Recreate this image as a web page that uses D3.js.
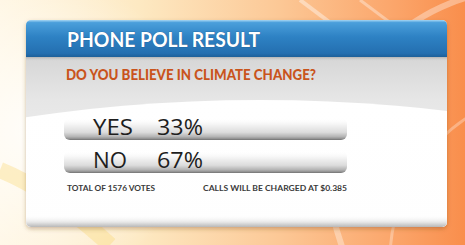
<!DOCTYPE html>
<html>
<head>
<meta charset="utf-8">
<script src="https://cdn.jsdelivr.net/npm/d3@7"></script>
<style>
  html, body { margin: 0; padding: 0; background: #fbb67d; }
  svg { display: block; }
  text { font-family: "Lato", "Open Sans", sans-serif; }
</style>
</head>
<body>
<svg id="chart" width="465" height="245"></svg>
<script>
// poll data
const answers = ["YES", "NO"];
const percents = [33, 67];
const titleText = "PHONE POLL RESULT";
const questionText = "DO YOU BELIEVE IN CLIMATE CHANGE?";
const totalVotes = 1576;
const callCost = "$0.385";

const W = 465, H = 245;
const svg = d3.select("#chart");
const defs = svg.append("defs");

function linGrad(id, stops, horizontal) {
  const g = defs.append("linearGradient").attr("id", id)
    .attr("x1", 0).attr("y1", 0)
    .attr("x2", horizontal ? 1 : 0).attr("y2", horizontal ? 0 : 1);
  stops.forEach(s => g.append("stop")
    .attr("offset", s[0]).attr("stop-color", s[1])
    .attr("stop-opacity", s[2] == null ? 1 : s[2]));
  return `url(#${id})`;
}

// background
svg.append("rect").attr("width", W).attr("height", H)
  .attr("fill", linGrad("bg", [[0, "#fff6e2"], [0.3, "#fde9c2"], [0.6, "#fcc896"], [0.85, "#fba56a"], [1, "#f98e4c"]], true));

const rg = defs.append("radialGradient").attr("id", "glow").attr("cx", 0.5).attr("cy", 0.5).attr("r", 0.5);
rg.append("stop").attr("offset", 0).attr("stop-color", "#ffffff").attr("stop-opacity", 0.9);
rg.append("stop").attr("offset", 1).attr("stop-color", "#ffffff").attr("stop-opacity", 0);
svg.append("ellipse").attr("cx", 40).attr("cy", 130).attr("rx", 150).attr("ry", 160).attr("fill", "url(#glow)");

// light swirls
const arcs = svg.append("g").attr("fill", "none");
arcs.append("circle").attr("cx", 520).attr("cy", 180).attr("r", 190)
  .attr("stroke", "#ffffff").attr("stroke-opacity", 0.35).attr("stroke-width", 6);
arcs.append("circle").attr("cx", 560).attr("cy", 260).attr("r", 170)
  .attr("stroke", "#ffffff").attr("stroke-opacity", 0.3).attr("stroke-width", 3);
arcs.append("path").attr("d", "M0,170 Q50,190 110,245")
  .attr("stroke", "#f8d870").attr("stroke-opacity", 0.35).attr("stroke-width", 16);
arcs.append("path").attr("d", "M300,0 L340,30").attr("stroke", "#ffffff").attr("stroke-opacity", 0.4).attr("stroke-width", 4);
arcs.append("path").attr("d", "M360,0 L400,30").attr("stroke", "#ffffff").attr("stroke-opacity", 0.35).attr("stroke-width", 3);

// panel
const px = 26, py = 20, pw = 421, ph = 207, headH = 37;
defs.append("filter").attr("id", "shadow").attr("x", -0.1).attr("y", -0.1).attr("width", 1.2).attr("height", 1.3)
  .append("feDropShadow").attr("dx", 0).attr("dy", 2).attr("stdDeviation", 2)
  .attr("flood-color", "#7a4a20").attr("flood-opacity", 0.35);

defs.append("clipPath").attr("id", "panelClip")
  .append("rect").attr("x", px).attr("y", py).attr("width", pw).attr("height", ph).attr("rx", 5);

svg.append("rect").attr("x", px).attr("y", py).attr("width", pw).attr("height", ph).attr("rx", 5)
  .attr("fill", "#f2f2f2").attr("filter", "url(#shadow)");

const panel = svg.append("g").attr("clip-path", "url(#panelClip)");
panel.append("rect").attr("x", px).attr("y", py + headH).attr("width", pw).attr("height", ph - headH)
  .attr("fill", linGrad("body", [[0, "#d6d6d6"], [0.25, "#e6e6e6"], [0.5, "#ececec"], [1, "#eeeeee"]]));
panel.append("ellipse").attr("cx", 260).attr("cy", 400).attr("rx", 700).attr("ry", 300)
  .attr("fill", linGrad("white", [[0, "#ffffff"], [1, "#fbfbfb"]]));
panel.append("rect").attr("x", px).attr("y", py + ph - 12).attr("width", pw).attr("height", 12)
  .attr("fill", linGrad("foot", [[0, "#ffffff", 0], [0.6, "#e6e6e6"], [1, "#b8b8b8"]]));

// header
panel.append("rect").attr("x", px).attr("y", py).attr("width", pw).attr("height", headH)
  .attr("fill", linGrad("head", [[0, "#a6d6f4"], [0.07, "#4b9fdb"], [0.45, "#2e82c4"], [0.9, "#246fb0"], [1, "#1d5f98"]]));
panel.append("rect").attr("x", px).attr("y", py + headH).attr("width", pw).attr("height", 4)
  .attr("fill", linGrad("headShade", [[0, "#8a8a8a", 0.45], [1, "#cccccc", 0]]));

svg.append("text").attr("x", 67).attr("y", 47)
  .attr("font-size", 20).attr("font-weight", 700).attr("fill", "#ffffff")
  .attr("textLength", 193).attr("lengthAdjust", "spacingAndGlyphs")
  .style("paint-order", "stroke").attr("stroke", "#1a5a90").attr("stroke-width", 0.6)
  .text(titleText);

svg.append("text").attr("x", 66).attr("y", 80)
  .attr("font-size", 14.5).attr("font-weight", 900).attr("fill", "#c9541c")
  .attr("textLength", 250).attr("lengthAdjust", "spacingAndGlyphs")
  .text(questionText);

// bars
const rows = answers.map((a, i) => ({ answer: a, pct: percents[i] }));
const y = d3.scaleBand().domain(answers).range([118, 173]).paddingInner(1 / 3);
const x = d3.scaleLinear().domain([0, 100]).range([64, 347]);

const barFill = linGrad("bar", [[0, "#ffffff", 0], [0.3, "#f4f4f4"], [0.65, "#dcdcdc"], [0.85, "#b4b4b4"], [0.95, "#8e8e8e"], [1, "#6f6f6f"]]);

const row = svg.append("g").selectAll("g").data(rows).join("g")
  .attr("transform", d => `translate(0,${y(d.answer)})`);

row.append("rect")
  .attr("x", x(0)).attr("width", x(100) - x(0))
  .attr("height", y.bandwidth()).attr("rx", 6)
  .attr("fill", barFill);

row.append("text").attr("x", 93).attr("y", 17)
  .attr("font-size", 21).attr("fill", "#1e1e1e")
  .style("font-family", "'Open Sans', sans-serif").attr("font-weight", 500)
  .attr("textLength", d => d.answer === "YES" ? 40 : 34).attr("lengthAdjust", "spacingAndGlyphs")
  .text(d => d.answer);

row.append("text").attr("x", 157).attr("y", 17)
  .attr("font-size", 21).attr("fill", "#1e1e1e")
  .style("font-family", "'Open Sans', sans-serif").attr("font-weight", 500)
  .attr("textLength", 46).attr("lengthAdjust", "spacingAndGlyphs")
  .text(d => d3.format("d")(d.pct) + "%");

// footer
svg.append("text").attr("x", 67).attr("y", 191)
  .attr("font-size", 7).attr("font-weight", 700).attr("fill", "#3a3a3a")
  .attr("textLength", 88).attr("lengthAdjust", "spacingAndGlyphs")
  .text(`TOTAL OF ${totalVotes} VOTES`);

svg.append("text").attr("x", 203).attr("y", 191)
  .attr("font-size", 7).attr("font-weight", 700).attr("fill", "#3a3a3a")
  .attr("textLength", 144).attr("lengthAdjust", "spacingAndGlyphs")
  .text(`CALLS WILL BE CHARGED AT ${callCost}`);
</script>
</body>
</html>
